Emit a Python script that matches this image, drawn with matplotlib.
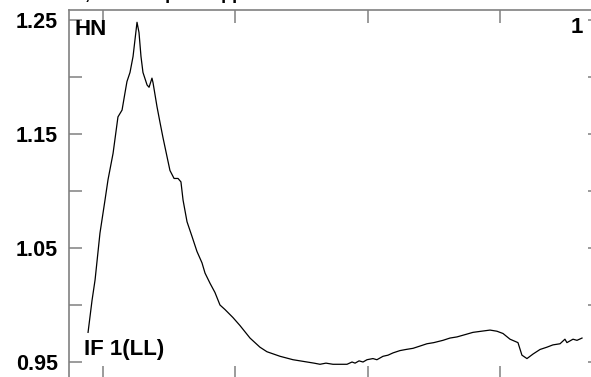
import matplotlib
matplotlib.use("Agg")
import numpy as np
from matplotlib import pyplot as plt

plt.rcParams['font.family'] = ['Liberation Sans', 'DejaVu Sans']

# trace (x in arbitrary sample units, y in ratio)
trace_x = [88.7, 91.7, 94.0, 97.7, 101.5, 103.8, 107.6, 111.3, 114.4, 116.6,
           118.1, 120.4, 122.7, 124.9, 125.7, 127.2, 128.7, 130.2, 133.3, 134.8,
           137.0, 137.8, 140.8, 143.1, 145.3, 148.4, 150.6, 153.7, 156.7, 158.9,
           160.5, 163.5, 167.3, 171.0, 174.8, 177.1, 180.9, 184.6, 188.4, 192.2,
           198.2, 203.5, 211.1, 218.6, 223.9, 233.8, 243.6, 248.9, 254.2, 259.5,
           264.0, 268.5, 273.8, 278.3, 284.4, 288.2, 290.5, 293.5, 296.5, 299.5,
           304.0, 307.0, 311.6, 315.4, 319.2, 324.4, 329.0, 334.3, 339.6, 344.8,
           350.0, 356.9, 362.2, 367.5, 373.6, 379.6, 386.0, 392.5, 397.7, 402.3,
           407.6, 413.6, 416.6, 420.4, 425.0, 430.3, 435.5, 440.0, 445.4, 449.1,
           450.6, 455.2, 458.2, 462.0]
trace_y = [0.976, 1.004, 1.022, 1.063, 1.092, 1.110, 1.133, 1.165, 1.171, 1.186,
           1.196, 1.204, 1.218, 1.240, 1.248, 1.239, 1.218, 1.204, 1.193, 1.191,
           1.199, 1.195, 1.174, 1.160, 1.147, 1.130, 1.118, 1.111, 1.111, 1.108,
           1.092, 1.073, 1.060, 1.047, 1.037, 1.028, 1.019, 1.011, 1.000, 0.996,
           0.989, 0.982, 0.971, 0.963, 0.959, 0.955, 0.952, 0.951, 0.950, 0.949,
           0.948, 0.949, 0.948, 0.948, 0.948, 0.950, 0.949, 0.951, 0.950, 0.952,
           0.953, 0.952, 0.955, 0.956, 0.958, 0.960, 0.961, 0.962, 0.964, 0.966,
           0.967, 0.969, 0.971, 0.972, 0.974, 0.976, 0.977, 0.978, 0.977, 0.975,
           0.970, 0.967, 0.956, 0.953, 0.957, 0.961, 0.963, 0.965, 0.966, 0.970,
           0.967, 0.970, 0.969, 0.971]

x_ticks = [100, 200, 300, 400]
y_ticks = [0.95, 1.00, 1.05, 1.10, 1.15, 1.20, 1.25]
y_labels = ['0.95', '', '1.05', '', '1.15', '', '1.25']

fig = plt.figure(figsize=(5.91, 3.77), dpi=100)
ax = fig.add_axes([69/591, -1/377, 531/591, 368/377])

ax.plot(trace_x, trace_y, color='black', lw=0.9)

ax.set_xlim(74.3, 475.6)
ax.set_ylim(1.25 - 358/1140, 1.25 + 10/1140)

grey = '#808080'
for s in ax.spines.values():
    s.set_color(grey)
    s.set_linewidth(1.2)

ax.set_xticks(x_ticks)
ax.set_xticklabels([])
ax.set_yticks(y_ticks)
ax.set_yticklabels(y_labels, fontsize=15.5, fontweight='bold')
ax.tick_params(direction='in', length=9, width=1.1, color=grey,
               top=True, right=True, pad=8)
# every other x tick is drawn in black
for i in (1, 3):
    t = ax.xaxis.get_major_ticks()[i]
    t.tick1line.set_color('black')
    t.tick2line.set_color('black')

ax.text(0.011, 0.975, 'HN', transform=ax.transAxes, fontsize=16,
        fontweight='bold', va='top', ha='left')
ax.text(0.968, 0.98, '1', transform=ax.transAxes, fontsize=16,
        fontweight='bold', va='top', ha='right')
ax.text(0.028, 0.049, 'IF 1(LL)', transform=ax.transAxes, fontsize=16,
        fontweight='bold', va='bottom', ha='left')

# title sits above the crop, only its lowest pixels show
fig.text(0.0, 1 + 0.5/377, 'Raw trace, no bandpass applied', fontsize=13,
         fontweight='bold', va='baseline', ha='left')

plt.savefig('out.png', dpi=100)
